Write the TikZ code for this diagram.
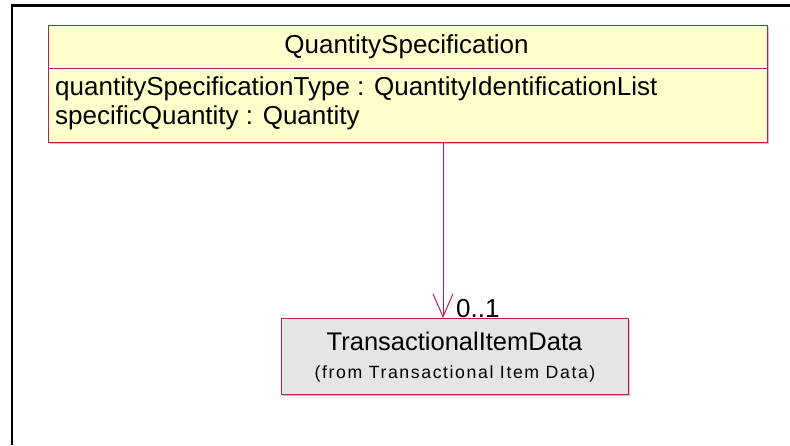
\documentclass[tikz,border=0pt]{standalone}
\usepackage{fontspec}
\setmainfont{Liberation Sans}
\usetikzlibrary{arrows.meta}
\definecolor{umlborder}{RGB}{176,36,84}
\definecolor{umlyellow}{RGB}{255,255,204}
\definecolor{umlgrey}{RGB}{229,229,229}
\definecolor{umlshadow}{RGB}{236,180,200}
\tikzset{
  classbox/.style={draw=umlborder, line width=1pt, anchor=north west, inner sep=0pt},
  shadowbox/.style={fill=umlshadow, draw=none, anchor=north west, inner sep=0pt},
  txt/.style={inner sep=0pt, font=\fontsize{26}{30}\selectfont},
  midtxt/.style={inner sep=0pt, font=\fontsize{25.5}{30}\selectfont},
  smalltxt/.style={inner sep=0pt, font=\fontsize{17.7}{20}\selectfont\addfontfeature{LetterSpace=9}},
  assoc/.style={draw=umlborder, line width=1pt, -{Straight Barb[length=23pt,width=20pt,line width=1pt]}},
}
\begin{document}
\begin{tikzpicture}[x=1pt,y=-1pt]
\useasboundingbox (0,0) rectangle (790,445);
% frame
\draw[line width=2.5pt] (12,445) -- (12,5.25) -- (790,5.25);
% QuantitySpecification class
\node[shadowbox, minimum width=719pt, minimum height=117pt] at (49.5,26.5) {};
\node[classbox, fill=umlyellow, minimum width=719pt, minimum height=117pt] (qs) at (48,25) {};
\draw[umlborder, line width=1pt] (48,68) -- (767,68);
\node[txt] (qsname) at (406.5,47) {QuantitySpecification};
\node[txt, anchor=west] (attr1) at (55,89) {quantitySpecificationType : QuantityIdentificationList};
\node[txt, anchor=west] (attr2) at (55,118) {specificQuantity : Quantity};
% TransactionalItemData class
\node[shadowbox, minimum width=347pt, minimum height=76pt] at (282.5,319.5) {};
\node[classbox, fill=umlgrey, minimum width=347pt, minimum height=76pt] (tid) at (281,318) {};
\node[midtxt] (tidname) at (454.5,341) {TransactionalItemData};
\node[smalltxt] (tidfrom) at (455,374) {(from Transactional Item Data)};
% association
\coordinate (a) at (443,0);
\draw[assoc] (qs.south -| a) -- (tid.north -| a);
\node[txt, anchor=south west] (mult) at (456,318) {0..1};
\end{tikzpicture}
\end{document}
